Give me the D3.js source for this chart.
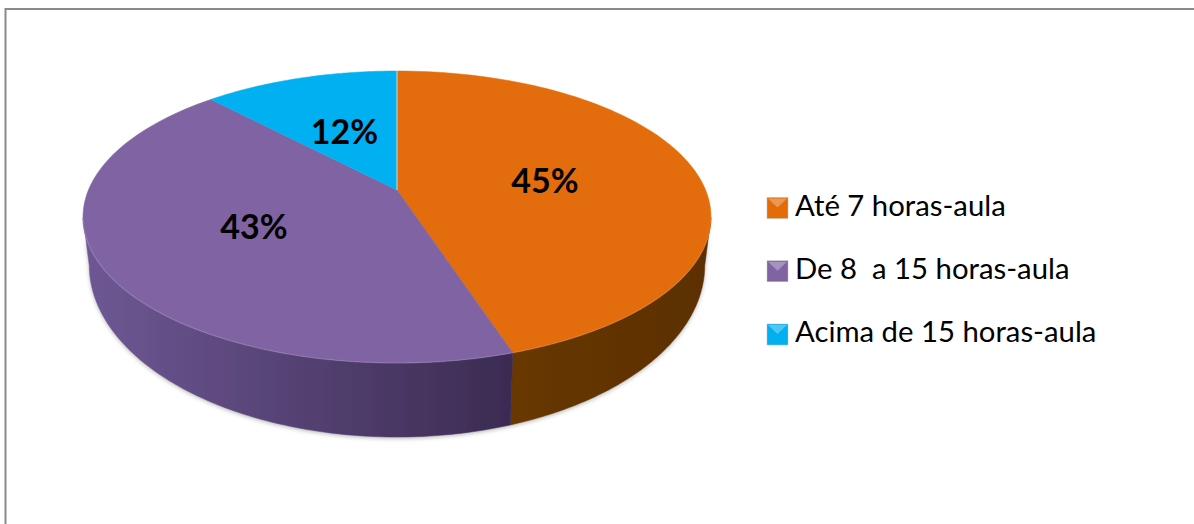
<!DOCTYPE html>
<html><head><meta charset="utf-8">
<script src="https://cdn.jsdelivr.net/npm/d3@7"></script>
<style>html,body{margin:0;padding:0;background:#fff}svg{display:block}text{font-family:Lato,"Open Sans",sans-serif;white-space:pre}</style>
</head><body><svg id="c" width="1194" height="524"></svg>
<script>
const categories = ["Até 7 horas-aula", "De 8  a 15 horas-aula", "Acima de 15 horas-aula"];
const values = [45, 43, 12];
const labels = ["45%", "43%", "12%"];
const topColors = ["#E36C09", "#8064A2", "#00B0F0"];
const sideLight = ["#683800", "#6E5894", "#007CA8"];
const sideDark = ["#5A2F00", "#3B2B52", "#006080"];

const svg = d3.select("#c");
svg.append("path").attr("d", "M5.5 524V9H1194").attr("fill", "none").attr("stroke", "#8a8a8a").attr("stroke-width", 2);

const defs = svg.append("defs");
defs.append("filter").attr("id", "soft").append("feGaussianBlur").attr("stdDeviation", 0.7);
const shadow = defs.append("filter").attr("id", "sh").attr("x", "-5%").attr("y", "-5%").attr("width", "110%").attr("height", "110%");
shadow.append("feGaussianBlur").attr("stdDeviation", 2);

// perspective pie: unit circle -> page through scales
const xScale = d3.scaleLinear().domain([-1, 1]).range([397 - 308.6, 397 + 308.6]);
const yScale = d3.scaleLinear().domain([-1, 1]).range([190 - 141, 190 + 141]);
const persp = -0.185;
function projectTop(a, r = 1) {
  const u = Math.sin(a), v = -Math.cos(a), w = 1 + persp * v;
  return [xScale(0) + (xScale(u) - xScale(0)) * r / w, yScale(0) + (yScale(v) - yScale(0)) * r / w];
}
// lower rim of the disc: top rim scaled round the ellipse centres
const rimX = d3.scaleLinear().domain([397, 711]).range([397, 397 + 314 * 0.98]);
const rimY = d3.scaleLinear().domain([217, 363]).range([265, 437]);
function projectBottom(a) {
  const p = projectTop(a);
  return [rimX(p[0]), rimY(p[1])];
}
const pie = d3.pie().sort(null).value(d => d);
const arcs = pie(values);
const line = d3.line();
const steps = d3.range(0, 1, 1 / 90).concat([1]);
const sample = (a0, a1) => steps.map(t => a0 + (a1 - a0) * t);

// side wall, only the part facing the viewer
const wallLimits = [Math.PI * 0.56, Math.PI * 1.44];
const walls = arcs.map((d, i) => {
  const a0 = Math.max(d.startAngle, wallLimits[0]), a1 = Math.min(d.endAngle, wallLimits[1]);
  return a1 > a0 ? { i, a0, a1 } : null;
}).filter(Boolean);

walls.forEach(w => {
  const a = sample(w.a0, w.a1);
  const id = "g" + w.i;
  const xs = a.map(t => projectTop(t)[0]).concat(a.map(t => projectBottom(t)[0]));
  const gr = defs.append("linearGradient").attr("id", id).attr("gradientUnits", "userSpaceOnUse")
    .attr("x1", d3.min(xs)).attr("x2", d3.max(xs)).attr("y1", 0).attr("y2", 0);
  gr.append("stop").attr("offset", 0).attr("stop-color", sideLight[w.i]);
  gr.append("stop").attr("offset", 1).attr("stop-color", sideDark[w.i]);
  w.d = line(a.map(t => projectTop(t)).concat(a.slice().reverse().map(t => projectBottom(t)))) + "Z";
  w.fill = `url(#${id})`;
});

svg.append("g").attr("filter", "url(#sh)").selectAll("path").data(walls).join("path")
  .attr("d", d => d.d).attr("fill", "#999").attr("transform", "translate(0,1.5)").attr("opacity", .7);
const pieG = svg.append("g").attr("filter", "url(#soft)");
pieG.selectAll("path.wall").data(walls).join("path").attr("class", "wall")
  .attr("d", d => d.d).attr("fill", d => d.fill).attr("stroke", d => d.fill).attr("stroke-width", .5);

// top faces
pieG.selectAll("path.top").data(arcs).join("path").attr("class", "top")
  .attr("d", d => line([projectTop(0, 0)].concat(sample(d.startAngle, d.endAngle).map(t => projectTop(t)))) + "Z")
  .attr("fill", (d, i) => topColors[i]).attr("stroke", (d, i) => topColors[i]).attr("stroke-width", .5);
// soft highlight along the front rim, light seam at first slice edge
pieG.append("path").attr("d", line(sample(wallLimits[0], wallLimits[1]).map(t => projectTop(t))))
  .attr("fill", "none").attr("stroke", "#fff").attr("stroke-opacity", .1).attr("stroke-width", 1.5);
pieG.append("path").attr("d", line([projectTop(0, 0), projectTop(0)])).attr("stroke", "#E8D4C0").attr("stroke-width", 1);

// data labels
const labelPos = [[545, 181], [254, 227], [344.5, 132]];
svg.selectAll("text.lab").data(labels).join("text").attr("class", "lab")
  .attr("x", (d, i) => labelPos[i][0]).attr("y", (d, i) => labelPos[i][1]).attr("dy", ".35em")
  .attr("text-anchor", "middle").attr("font-size", 34).attr("font-weight", 700).attr("fill", "#000").text(d => d);

// legend
const legendY = d3.scalePoint().domain(categories).range([207.5, 334]);
const lg = svg.selectAll("g.leg").data(categories).join("g").attr("class", "leg")
  .attr("transform", d => `translate(767,${legendY(d)})`);
lg.append("rect").attr("x", 0).attr("y", -10).attr("width", 21).attr("height", 21)
  .attr("fill", (d, i) => topColors[i]).attr("stroke", "#bbb").attr("stroke-width", .5);
lg.append("path").attr("d", "M1 -9H20L10.5 0Z").attr("fill", "#fff").attr("opacity", .3);
lg.append("text").attr("x", 28).attr("y", 8).attr("font-size", 29.3).attr("fill", "#000").text(d => d);
</script></body></html>
